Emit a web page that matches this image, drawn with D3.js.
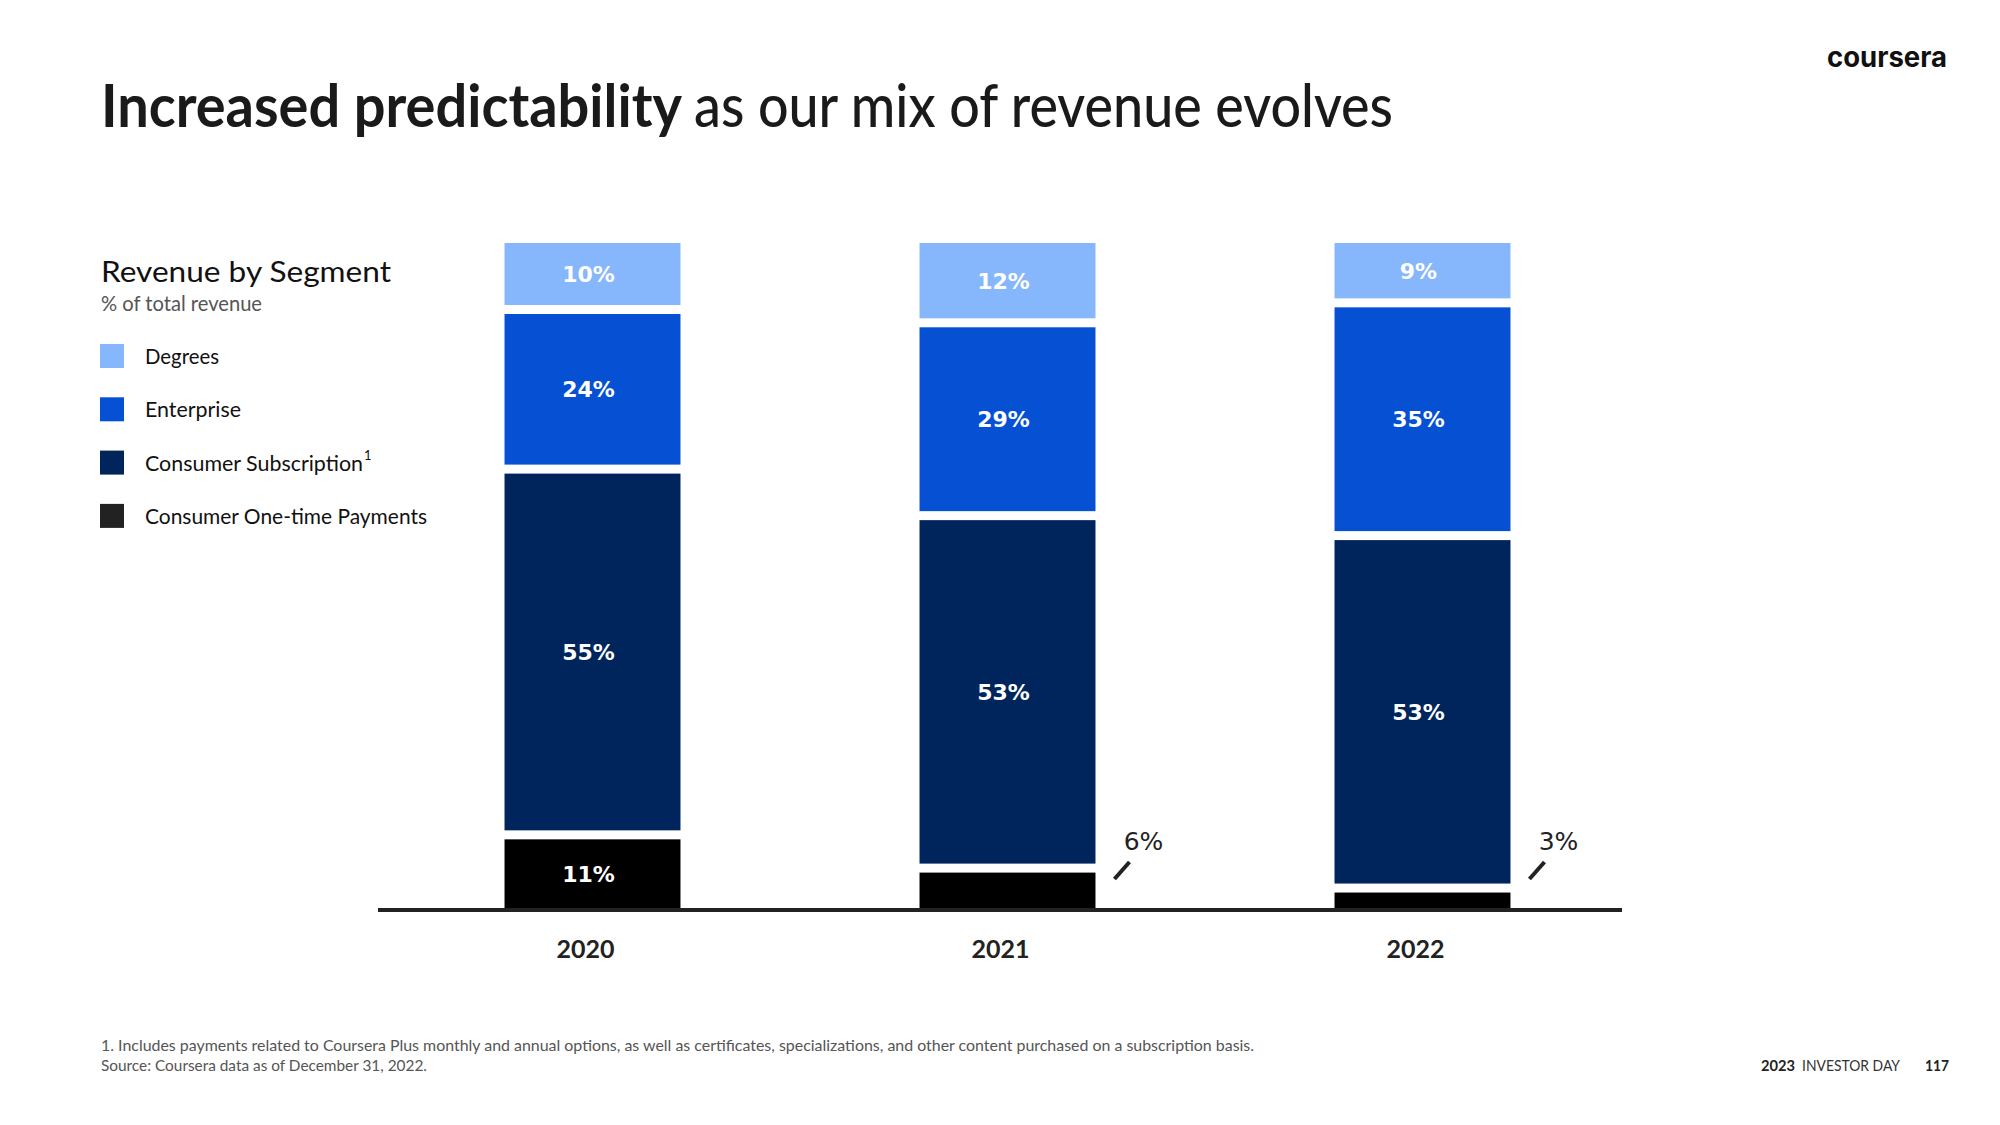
<!DOCTYPE html>
<html>
<head>
<meta charset="utf-8">
<script src="https://cdn.jsdelivr.net/npm/d3@7"></script>
<style>
  html, body { margin: 0; padding: 0; background: #ffffff; }
  svg { display: block; }
</style>
</head>
<body>
<script>
// ---------- data ----------
const years = ["2020", "2021", "2022"];
const segmentNames = ["Degrees", "Enterprise", "Consumer Subscription", "Consumer One-time Payments"];
const degrees = [10, 12, 9];
const enterprise = [24, 29, 35];
const consumerSubscription = [55, 53, 53];
const consumerOneTime = [11, 6, 3];
const segmentColors = ["#86B6FB", "#0550D3", "#00245C", "#000000"];
const legendColors = ["#86B6FB", "#0550D3", "#00245C", "#222222"];

// ---------- setup ----------
const W = 2000, H = 1125;
const BODY = "Lato, 'Noto Sans', sans-serif";
const LABEL = "'DejaVu Sans', Verdana, sans-serif";
const svg = d3.select("body").append("svg").attr("width", W).attr("height", H)
  .attr("font-family", BODY);
svg.append("rect").attr("width", W).attr("height", H).attr("fill", "#fff");

// title
svg.append("text").attr("x", 101).attr("y", 127)
  .attr("font-size", 60).attr("font-weight", 700).attr("fill", "#1a1a1a")
  .attr("textLength", 581).attr("lengthAdjust", "spacingAndGlyphs")
  .text("Increased predictability");
svg.append("text").attr("x", 694).attr("y", 127)
  .attr("font-size", 60).attr("font-weight", 500).attr("fill", "#1a1a1a")
  .attr("textLength", 699).attr("lengthAdjust", "spacingAndGlyphs")
  .text("as our mix of revenue evolves");

// logo
svg.append("text").attr("x", 1827).attr("y", 67)
  .attr("font-family", "Inter, Lato, sans-serif")
  .attr("font-size", 28).attr("font-weight", 700).attr("fill", "#111")
  .attr("textLength", 120).attr("lengthAdjust", "spacingAndGlyphs")
  .text("coursera");

// legend block
svg.append("text").attr("x", 101).attr("y", 282)
  .attr("font-size", 28).attr("fill", "#111")
  .attr("textLength", 290).attr("lengthAdjust", "spacingAndGlyphs")
  .text("Revenue by Segment");
svg.append("text").attr("x", 101).attr("y", 311)
  .attr("font-size", 21).attr("fill", "#555")
  .attr("textLength", 161).attr("lengthAdjust", "spacingAndGlyphs")
  .text("% of total revenue");

const legendWidths = [74, 96, 218, 282];
const legend = svg.append("g");
segmentNames.forEach((name, i) => {
  const gy = 344 + i * 53.3;
  legend.append("rect").attr("x", 100).attr("y", gy).attr("width", 24).attr("height", 24)
    .attr("fill", legendColors[i]);
  legend.append("text").attr("x", 145).attr("y", gy + 20)
    .attr("font-size", 21).attr("fill", "#111")
    .attr("textLength", legendWidths[i]).attr("lengthAdjust", "spacingAndGlyphs")
    .text(name);
  if (i === 2) {
    legend.append("text").attr("x", 145 + legendWidths[i] + 1).attr("y", gy + 9)
      .attr("font-size", 13).attr("fill", "#111").text("1");
  }
});

// ---------- chart ----------
const x = d3.scaleBand().domain(years).range([385, 1630]).paddingInner(0.576).paddingOuter(0.288);
const y = d3.scaleLinear().domain([0, 100]).range([908, 243]);

const rows = years.map((yr, i) => ({
  year: yr,
  oneTime: consumerOneTime[i],
  subscription: consumerSubscription[i],
  enterprise: enterprise[i],
  degrees: degrees[i]
}));
const keys = ["oneTime", "subscription", "enterprise", "degrees"];
const keyColor = { degrees: segmentColors[0], enterprise: segmentColors[1], subscription: segmentColors[2], oneTime: segmentColors[3] };
const series = d3.stack().keys(keys)(rows);
const gap = 9;

const barsG = svg.append("g");
series.forEach((s, k) => {
  const g = barsG.append("g");
  s.forEach(d => {
    const top = y(d[1]) + (k < keys.length - 1 ? gap / 2 : 0);
    const bot = y(d[0]) - (k > 0 ? gap / 2 : 0);
    g.append("rect")
      .attr("x", x(d.data.year)).attr("width", x.bandwidth())
      .attr("y", top).attr("height", Math.max(0, bot - top))
      .attr("fill", keyColor[s.key]);
    const v = d[1] - d[0];
    if (v >= 8) {
      g.append("text")
        .attr("x", x(d.data.year) + x.bandwidth() / 2 - 4)
        .attr("y", (top + bot) / 2)
        .attr("dy", "0.36em")
        .attr("text-anchor", "middle")
        .attr("font-family", LABEL)
        .attr("font-size", 22).attr("font-weight", 700).attr("fill", "#fff")
        .text(v + "%");
    } else {
      const rx = x(d.data.year) + x.bandwidth();
      g.append("line")
        .attr("x1", rx + 19).attr("y1", y(0) - 29)
        .attr("x2", rx + 34).attr("y2", y(0) - 46)
        .attr("stroke", "#222").attr("stroke-width", 4);
      g.append("text")
        .attr("x", rx + 48).attr("y", y(0) - 58)
        .attr("text-anchor", "middle")
        .attr("font-family", LABEL)
        .attr("font-size", 25).attr("fill", "#222")
        .text(v + "%");
    }
  });
});

// x axis
const axisG = svg.append("g").attr("transform", `translate(0,${y(0) + 2})`)
  .call(d3.axisBottom(x).tickSize(0).tickSizeOuter(0).tickPadding(30));
const [r0, r1] = x.range();
axisG.select(".domain").attr("d", `M${r0 - 7},0H${r1 - 8}`)
  .attr("stroke", "#222").attr("stroke-width", 4);
axisG.selectAll(".tick text")
  .attr("font-family", BODY)
  .attr("font-size", 25).attr("font-weight", 700).attr("fill", "#222")
  .attr("dx", -7);

// footnotes
svg.append("text").attr("x", 101).attr("y", 1051)
  .attr("font-size", 15).attr("fill", "#555")
  .attr("textLength", 1153).attr("lengthAdjust", "spacingAndGlyphs")
  .text("1. Includes payments related to Coursera Plus monthly and annual options, as well as certificates, specializations, and other content purchased on a subscription basis.");
svg.append("text").attr("x", 101).attr("y", 1071)
  .attr("font-size", 15).attr("fill", "#555")
  .attr("textLength", 326).attr("lengthAdjust", "spacingAndGlyphs")
  .text("Source: Coursera data as of December 31, 2022.");

// page footer
svg.append("text").attr("x", 1761).attr("y", 1071)
  .attr("font-size", 15).attr("font-weight", 700).attr("fill", "#222")
  .attr("textLength", 34).attr("lengthAdjust", "spacingAndGlyphs").text("2023");
svg.append("text").attr("x", 1802).attr("y", 1071)
  .attr("font-size", 15).attr("fill", "#333")
  .attr("textLength", 98).attr("lengthAdjust", "spacingAndGlyphs").text("INVESTOR DAY");
svg.append("text").attr("x", 1925).attr("y", 1071)
  .attr("font-size", 15).attr("font-weight", 700).attr("fill", "#222")
  .attr("textLength", 24).attr("lengthAdjust", "spacingAndGlyphs").text("117");
</script>
</body>
</html>
